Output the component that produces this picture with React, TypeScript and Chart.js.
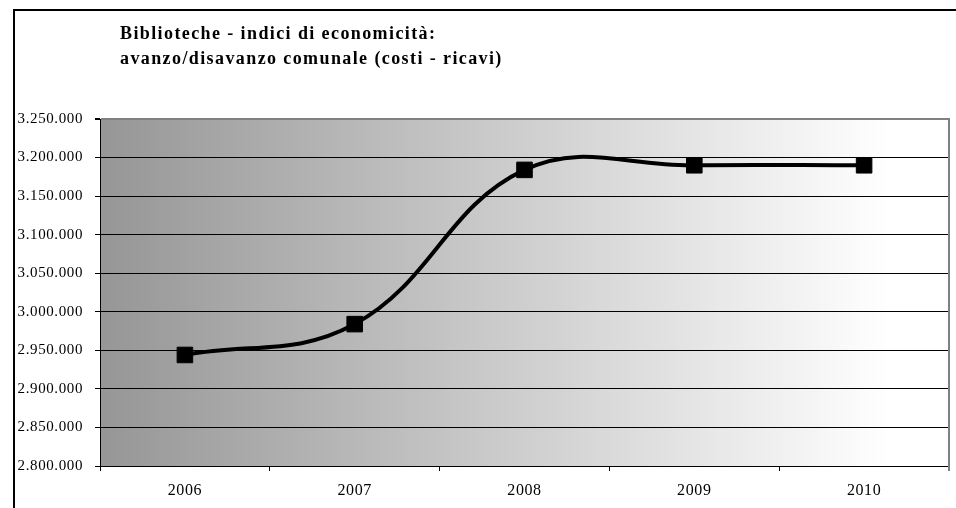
import React, { useEffect, useRef } from "react";
import { Chart, registerables } from "chart.js";

Chart.register(...registerables);

const TITLE_LINES = [
  "Biblioteche - indici di economicità:",
  "avanzo/disavanzo comunale (costi - ricavi)",
];
const YEARS = ["2006", "2007", "2008", "2009", "2010"];
const VALUES = [2944000, 2984000, 3184000, 3190000, 3190000];
const Y_MIN = 2800000;
const Y_MAX = 3250000;
const Y_STEP = 50000;

const SERIF = "'Liberation Serif', 'Times New Roman', serif";

function fmt(v: number): string {
  return String(Math.round(v)).replace(/\B(?=(\d{3})+(?!\d))/g, ".");
}

const plotDecor = {
  id: "plotDecor",
  beforeDraw(chart: any) {
    const { ctx, chartArea } = chart;
    const { left, right, top, bottom } = chartArea;
    ctx.save();
    const g = ctx.createLinearGradient(left, 0, right, 0);
    g.addColorStop(0, "#969696");
    g.addColorStop(0.93, "#ffffff");
    g.addColorStop(1, "#ffffff");
    ctx.fillStyle = g;
    ctx.fillRect(left, top, right - left, bottom - top);
    ctx.restore();
    ctx.letterSpacing = "0.6px";
  },
  afterDatasetsDraw(chart: any) {
    const { ctx, chartArea } = chart;
    const { right, top, bottom } = chartArea;
    ctx.save();
    ctx.strokeStyle = "#808080";
    ctx.lineWidth = 2;
    ctx.beginPath();
    ctx.moveTo(right, top - 1);
    ctx.lineTo(right, bottom + 5);
    ctx.stroke();
    ctx.restore();
  },
};

export default function App() {
  const ref = useRef<HTMLCanvasElement | null>(null);

  useEffect(() => {
    if (!ref.current) return;
    const chart = new Chart(ref.current, {
      type: "line",
      data: {
        labels: YEARS,
        datasets: [
          {
            data: VALUES,
            borderColor: "#000000",
            backgroundColor: "#000000",
            borderWidth: 4,
            tension: 0.4,
            pointStyle: "rect",
            pointRadius: 11,
            pointBorderWidth: 1,
            pointBackgroundColor: "#000000",
            pointBorderColor: "#000000",
          },
        ],
      },
      options: {
        responsive: false,
        animation: false,
        events: [],
        layout: { padding: { left: 0, top: 119, right: 0, bottom: 0 } },
        plugins: {
          legend: { display: false },
          title: { display: false },
          tooltip: { enabled: false },
        },
        scales: {
          x: {
            offset: true,
            grid: {
              offset: true,
              drawOnChartArea: false,
              drawTicks: true,
              tickLength: 5,
              color: "#000000",
            },
            border: { display: true, color: "#000000", width: 1 },
            ticks: {
              color: "#000000",
              font: { family: SERIF, size: 16 },
              padding: 10,
              maxRotation: 0,
            },
            afterFit(scale: any) {
              scale.height = 42;
              scale.paddingLeft = 0;
              scale.paddingRight = 0;
            },
          },
          y: {
            min: Y_MIN,
            max: Y_MAX,
            grid: {
              color: (c: any) =>
                c.tick && c.tick.value === Y_MAX ? "#808080" : "#000000",
              lineWidth: (c: any) =>
                c.tick && c.tick.value === Y_MAX ? 2 : 1,
              tickLength: 5,
              tickColor: "#000000",
            },
            border: { display: true, color: "#000000", width: 1 },
            ticks: {
              stepSize: Y_STEP,
              color: "#000000",
              font: { family: SERIF, size: 15 },
              padding: 12,
              callback: (v: any) => fmt(Number(v)),
            },
            afterFit(scale: any) {
              scale.width = 100;
            },
          },
        },
      },
      plugins: [plotDecor],
    });
    return () => chart.destroy();
  }, []);

  return (
    <div
      style={{
        position: "absolute",
        left: 0,
        top: 0,
        width: 956,
        height: 508,
        overflow: "hidden",
        background: "#ffffff",
      }}
    >
      <div
        style={{
          position: "absolute",
          left: 13,
          top: 9,
          width: 1000,
          height: 600,
          border: "2px solid #000000",
          boxSizing: "border-box",
        }}
      />
      <canvas
        ref={ref}
        width={961}
        height={508}
        style={{ position: "absolute", left: 0, top: 0 }}
      />
      <div
        style={{
          position: "absolute",
          left: 120,
          top: 21,
          fontFamily: SERIF,
          fontWeight: "bold",
          fontSize: 18,
          lineHeight: "25px",
          letterSpacing: "1.4px",
          color: "#000000",
          whiteSpace: "nowrap",
        }}
      >
        {TITLE_LINES.map((t) => (
          <div key={t}>{t}</div>
        ))}
      </div>
    </div>
  );
}
